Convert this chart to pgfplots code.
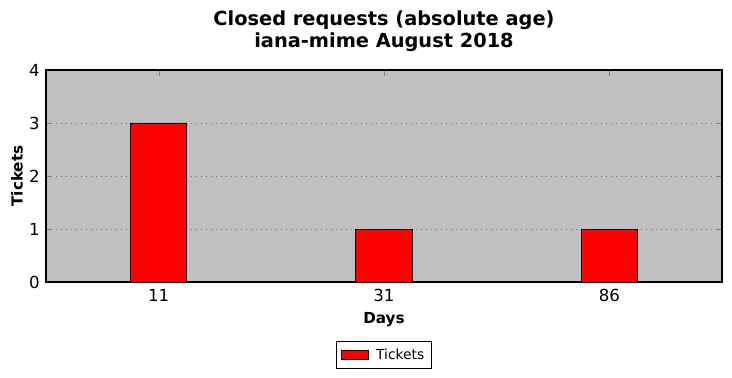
\documentclass[border=0pt]{standalone}
\usepackage{pgfplots}
\pgfplotsset{compat=1.18}
\usepackage{fontspec}
\setmainfont{DejaVu Sans}
\begin{document}
\begin{tikzpicture}[x=1bp,y=1bp]
\useasboundingbox (-33.12bp,-69.12bp) rectangle (493.92bp,203.04bp);
\begin{axis}[
  at={(0,0)}, anchor=south west,
  scale only axis,
  width=486.72bp, height=152.64bp,
  xmin=-0.5, xmax=2.5, ymin=0, ymax=4,
  xtick={0,1,2}, xticklabels={11,31,86},
  ytick={0,1,2,3,4},
  tick pos=both, tick align=inside,
  major tick length=4bp,
  axis background/.style={fill={rgb,255:red,192;green,192;blue,192}},
  axis line style={black, line width=0.8pt},
  ymajorgrids, grid style={black!55, dash pattern=on 1bp off 2.6bp, line width=0.5pt},
  /pgf/number format/assume math mode=true,
  ticklabel style={font=\fontsize{12}{14}\selectfont},
  xticklabel style={yshift=-2bp},
  yticklabel style={xshift=-1bp},
  xlabel={\textbf{Days}}, ylabel={\textbf{Tickets}},
  label style={font=\fontsize{11}{13}\selectfont},
  xlabel style={at={(0.5,0)}, anchor=center, yshift=-27.4bp},
  ylabel style={at={(0,0.5)}, anchor=center, yshift=21bp},
  title={\textbf{Closed requests (absolute age)}\\\textbf{iana-mime August 2018}},
  title style={font=\fontsize{14}{16}\selectfont, align=center, at={(0.5,1)}, anchor=south, yshift=3.6bp},
  legend style={at={(0.5,0)}, anchor=center, yshift=-52.6bp, font=\fontsize{10}{12}\selectfont, draw=black, line width=0.8pt, inner xsep=3pt, inner ysep=3pt},
  legend image code/.code={\draw[#1, line width=0.6pt] (0cm,-0.11cm) rectangle (0.7cm,0.11cm);},
  legend cell align=left,
]
\addplot[ybar, bar width=0.25, fill=red, draw=black, line width=0.6pt] coordinates {(0,3) (1,1) (2,1)};
\addlegendentry{\hspace{3bp}Tickets}
\end{axis}
\end{tikzpicture}
\end{document}
